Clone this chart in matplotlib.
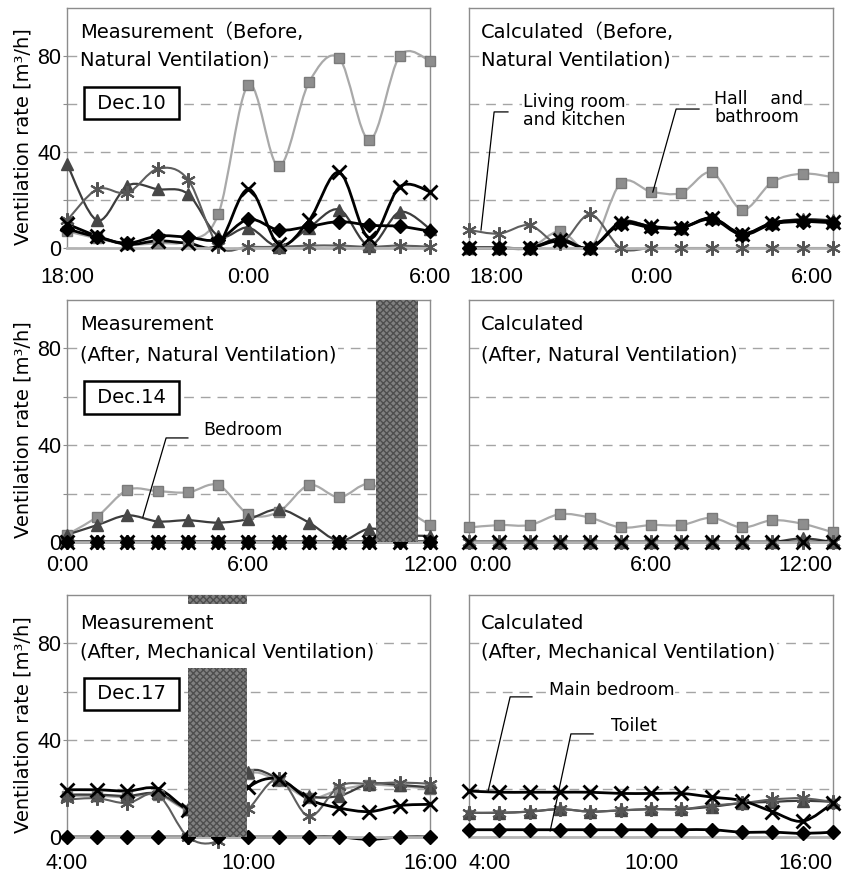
import numpy as np
import matplotlib
matplotlib.use("Agg")
import matplotlib.pyplot as plt
from matplotlib.path import Path
from matplotlib.patches import PathPatch
from matplotlib import font_manager

# hourly sample positions (hours from the first label) and the tick labels
hours = [0, 1, 2, 3, 4, 5, 6, 7, 8, 9, 10, 11, 12]
tick_hours = [0, 6, 12]
ticks_before = ["18:00", "0:00", "6:00"]
ticks_nat = ["0:00", "6:00", "12:00"]
ticks_mech = ["4:00", "10:00", "16:00"]

# Dec.10 measurement (before, natural ventilation)
m1_square = [7, 4, 1.5, 2, 3, 14, 68, 34, 69, 79, 45, 80, 78]
m1_triangle = [35, 11.5, 26, 24.5, 22.5, 5, 8.5, 0.5, 8.5, 16, 1, 15, 8]
m1_star = [11.5, 24.5, 23, 33, 28.5, 1, 0.5, 0.5, 1, 1, 0.5, 1, 0.5]
m1_diamond = [8, 4.5, 2, 5, 4.5, 3.5, 12, 7.5, 9, 11, 9.5, 9, 7]
m1_cross = [10, 5, 1.5, 3, 2, 1.5, 24.5, 1.5, 11.5, 31.5, 4, 25.5, 23.5]

# calculated (before, natural ventilation)
c1_square = [0, 0, 0, 7, 0, 27, 23.5, 23, 31.5, 16, 27.5, 31, 29.5]
c1_triangle = [0, 0, 0, 4, 0, 11, 9, 8.5, 12.5, 6, 10.5, 12, 11.5]
c1_star = [7.5, 6, 9.5, 2, 14, 0, 0, 0, 0, 0, 0, 0, 0]
c1_diamond = [0, 0, 0, 3, 0, 10, 8.5, 8.5, 12, 5.5, 10, 11, 10.5]
c1_cross = [0, 0, 0, 3.5, 0, 10.5, 9, 8.5, 12.5, 6, 10.5, 11.5, 11]

# Dec.14 measurement (after, natural ventilation)
m2_square = [3, 10.5, 21.5, 21, 20.5, 23.5, 11.5, 12.5, 23.5, 18.5, 24, 15, 7]
m2_triangle = [3, 7, 11, 8.5, 9, 8, 9.5, 13.5, 8, 0.5, 5.5, 3, 2.5]
m2_star = [0, 0, 0, 0, 0, 0, 0, 0, 0, 0, 0, 0, 0]
m2_diamond = [0, 0, 0, 0, 0, 0, 0, 0, 0, 0, 0, 0, 0]
m2_cross = [0, 0, 0, 0, 0, 0, 0, 0, 0, 0, 0, 0, 0]

# calculated (after, natural ventilation)
c2_square = [6, 7, 7, 11.5, 10, 6, 7, 7, 10, 6, 9, 7.5, 4]
c2_triangle = [0, 0, 0, 0, 0, 0, 0, 0, 0, 0, 0, 1.5, 0]
c2_star = [0, 0, 0, 0, 0, 0, 0, 0, 0, 0, 0, 0, 0]
c2_cross = [0, 0, 0, 0, 0, 0, 0, 0, 0, 0, 0, 0, 0]

# Dec.17 measurement (after, mechanical ventilation)
m3_square = [17, 17, 16.5, 17.5, 11, 10, 26, 23, 16, 19.5, 21.5, 21, 20]
m3_triangle = [17.5, 17.5, 17, 18, 11.5, 10, 27, 24, 17, 17, 22, 21.5, 20.5]
m3_star = [15.5, 16, 14, 17.5, 0, -1.5, 11.5, 24, 8.5, 21, 22, 22.5, 22]
m3_diamond = [0, 0, 0, 0, 0, 0, 0, 0, 0, 0, -1, 0, 0]
m3_cross = [19.5, 19.5, 19, 20, 11, 5, 20.5, 24, 15.5, 12, 10.5, 13, 13.5]

# calculated (after, mechanical ventilation)
c3_triangle = [10, 10, 10.5, 11.5, 10.5, 11, 11.5, 11.5, 12.5, 14, 14.5, 15, 14.5]
c3_star = [10, 10, 10.5, 11.5, 10.5, 11, 11.5, 11.5, 13, 14, 15.5, 16, 14.5]
c3_diamond = [3, 3, 3, 3, 3, 3, 3, 3, 3, 2, 2, 1.5, 2]
c3_cross = [19, 18.5, 18.5, 18.5, 18.5, 18, 18, 18, 16.5, 15, 10.5, 6.5, 14]

# shaded periods (hours) : start, end, bottom, top
shade_p3 = [(10.2, 11.6, 0, 100)]
shade_p5 = [(4.0, 5.95, 0, 70), (4.0, 5.95, 96.4, 100)]

STYLE = {
    "square": dict(marker="s", ms=7.5, mfc="#8e8e8e", mec="#7a7a7a", color="#a9a9a9", lw=1.6),
    "triangle": dict(marker="^", ms=8.5, mfc="#474747", mec="#474747", color="#3c3c3c", lw=1.6),
    "star": dict(marker=(6, 2, 0), ms=10.5, mew=1.5, mfc="none", mec="#555555", color="#5e5e5e", lw=1.5),
    "diamond": dict(marker="D", ms=7, mfc="black", mec="black", color="black", lw=2.0),
    "cross": dict(marker="x", ms=9.5, mew=2, mfc="none", mec="black", color="black", lw=2.0),
}

names = {f.name for f in font_manager.fontManager.ttflist}
if "Liberation Sans Narrow" in names:
    TICK_FONT, TICK_SIZE = "Liberation Sans Narrow", 16.5
else:
    TICK_FONT, TICK_SIZE = "Liberation Sans", 15.5
TXT_FONT = ["DejaVu Sans", "Noto Sans CJK JP"]


def smooth_path(x, y):
    # excel-like smoothed line: catmull-rom segments as cubic beziers
    pts = np.column_stack([x, y]).astype(float)
    n = len(pts)
    verts = [pts[0]]
    codes = [Path.MOVETO]
    for i in range(n - 1):
        p0 = pts[max(i - 1, 0)]
        p1 = pts[i]
        p2 = pts[i + 1]
        p3 = pts[min(i + 2, n - 1)]
        verts += [p1 + (p2 - p0) / 6, p2 - (p3 - p1) / 6, p2]
        codes += [Path.CURVE4] * 3
    return Path(verts, codes)


def draw(ax, y, kind):
    st = dict(STYLE[kind])
    color, lw = st.pop("color"), st.pop("lw")
    ax.add_patch(PathPatch(smooth_path(hours, y), fc="none", ec=color, lw=lw,
                           capstyle="round", joinstyle="round", zorder=2, clip_on=False))
    ax.plot(hours, y, linestyle="none", zorder=3, clip_on=False, **st)


W, H = 856, 875
fig = plt.figure(figsize=(W / 100, H / 100), dpi=100)


def add_axes(l, t, r, b):
    return fig.add_axes([l / W, 1 - b / H, (r - l) / W, (b - t) / H])


def setup(ax, labels, left_col, pad):
    ax.set_xlim(0, 12)
    ax.set_ylim(0, 100)
    ax.set_yticks([0, 20, 40, 60, 80])
    ax.grid(axis="y", color="#a4a4a4", linestyle=(0, (7, 5)), linewidth=1.0, zorder=1)
    for s in ["top", "right", "left"]:
        ax.spines[s].set_color("#8c8c8c")
        ax.spines[s].set_linewidth(1.0)
    ax.spines["bottom"].set_color("#b4b4b4")
    ax.spines["bottom"].set_linewidth(2.0)
    ax.set_xticks(tick_hours, labels)
    ax.tick_params(axis="x", length=0, pad=pad)
    for t in ax.get_xticklabels():
        t.set_fontfamily(TICK_FONT)
        t.set_fontsize(TICK_SIZE)
    if left_col:
        ax.set_yticklabels(["0", "", "40", "", "80"])
        ax.tick_params(axis="y", length=3, pad=1, color="#8c8c8c")
        for t in ax.get_yticklabels():
            t.set_fontfamily(TICK_FONT)
            t.set_fontsize(TICK_SIZE)
        ax.set_ylabel("Ventilation rate [m³/h]", fontsize=14, family=TXT_FONT)
        ax.yaxis.set_label_coords(-0.094, 0.465)
    else:
        ax.set_yticklabels([])
        ax.tick_params(axis="y", length=0)
        tl = ax.get_xticklabels()
        tl[0].set_ha("left")
        tl[-1].set_ha("right")


def title(ax, lines, ys, x=0.036):
    for s, yy in zip(lines, ys):
        ax.text(x, yy, s, transform=ax.transAxes, fontsize=14, family=TXT_FONT,
                ha="left", va="center", zorder=6,
                bbox=dict(fc="white", ec="none", pad=1))


def date_box(ax, s, y):
    ax.text(0.177, y, " " + s + " ", transform=ax.transAxes, fontsize=14, family=TXT_FONT,
            ha="center", va="center", zorder=7,
            bbox=dict(boxstyle="square,pad=0.35", fc="white", ec="black", lw=1.8))


def label(ax, s, xy, leader):
    ax.text(xy[0], xy[1], s, transform=ax.transAxes, fontsize=12.5, family=TXT_FONT,
            ha="left", va="center", linespacing=1.05, zorder=6,
            bbox=dict(fc="white", ec="none", pad=0.5))
    ax.plot(leader[0], leader[1], transform=ax.transAxes, color="black", lw=0.9,
            clip_on=False, zorder=6)


def shade(ax, spans):
    for x0, x1, y0, y1 in spans:
        ax.bar(x0, y1 - y0, width=x1 - x0, bottom=y0, align="edge", color="#808080",
               edgecolor="#4e4e4e", hatch="xxxxx", linewidth=0, zorder=5, clip_on=True)


ax1 = add_axes(67, 8, 430, 248)
ax2 = add_axes(469, 8, 833, 248)
ax3 = add_axes(67, 300, 430, 542)
ax4 = add_axes(469, 300, 833, 542)
ax5 = add_axes(67, 595, 430, 837)
ax6 = add_axes(469, 595, 833, 837)

setup(ax1, ticks_before, True, 13.5)
setup(ax2, ticks_before, False, 13.5)
setup(ax3, ticks_nat, True, 9.5)
setup(ax4, ticks_nat, False, 9.5)
setup(ax5, ticks_mech, True, 11.5)
setup(ax6, ticks_mech, False, 11.5)

# panel 1
for y, k in [(m1_square, "square"), (m1_triangle, "triangle"), (m1_star, "star"),
             (m1_diamond, "diamond"), (m1_cross, "cross")]:
    draw(ax1, y, k)
title(ax1, ["Measurement（Before,", "Natural Ventilation)"], [0.90, 0.783])
date_box(ax1, "Dec.10", 0.604)

# panel 2
for y, k in [(c1_square, "square"), (c1_star, "star"), (c1_triangle, "triangle"),
             (c1_diamond, "diamond"), (c1_cross, "cross")]:
    draw(ax2, y, k)
title(ax2, ["Calculated（Before,", "Natural Ventilation)"], [0.90, 0.783], x=0.033)
label(ax2, "Living room\nand kitchen", (0.148, 0.571),
      ([0.107, 0.069, 0.033], [0.567, 0.567, 0.075]))
label(ax2, "Hall　 and\nbathroom", (0.673, 0.583),
      ([0.632, 0.569, 0.505], [0.579, 0.579, 0.233]))

# panel 3
for y, k in [(m2_square, "square"), (m2_triangle, "triangle"), (m2_star, "star"),
             (m2_diamond, "diamond"), (m2_cross, "cross")]:
    draw(ax3, y, k)
shade(ax3, shade_p3)
title(ax3, ["Measurement", "(After, Natural Ventilation)"], [0.897, 0.773])
date_box(ax3, "Dec.14", 0.597)
label(ax3, "Bedroom", (0.375, 0.463),
      ([0.333, 0.273, 0.209], [0.43, 0.43, 0.103]))

# panel 4
for y, k in [(c2_square, "square"), (c2_triangle, "triangle"), (c2_star, "star"),
             (c2_cross, "cross")]:
    draw(ax4, y, k)
title(ax4, ["Calculated", "(After, Natural Ventilation)"], [0.897, 0.773], x=0.033)

# panel 5
for y, k in [(m3_square, "square"), (m3_triangle, "triangle"), (m3_star, "star"),
             (m3_diamond, "diamond"), (m3_cross, "cross")]:
    draw(ax5, y, k)
shade(ax5, shade_p5)
title(ax5, ["Measurement", "(After, Mechanical Ventilation)"], [0.884, 0.764])
date_box(ax5, "Dec.17", 0.591)

# panel 6
for y, k in [(c3_triangle, "triangle"), (c3_star, "star"), (c3_diamond, "diamond"),
             (c3_cross, "cross")]:
    draw(ax6, y, k)
title(ax6, ["Calculated", "(After, Mechanical Ventilation)"], [0.884, 0.764], x=0.033)
label(ax6, "Main bedroom", (0.22, 0.607),
      ([0.173, 0.113, 0.052], [0.579, 0.579, 0.186]))
label(ax6, "Toilet", (0.39, 0.459),
      ([0.341, 0.280, 0.223], [0.426, 0.426, 0.025]))

fig.savefig("out.png", dpi=100)
